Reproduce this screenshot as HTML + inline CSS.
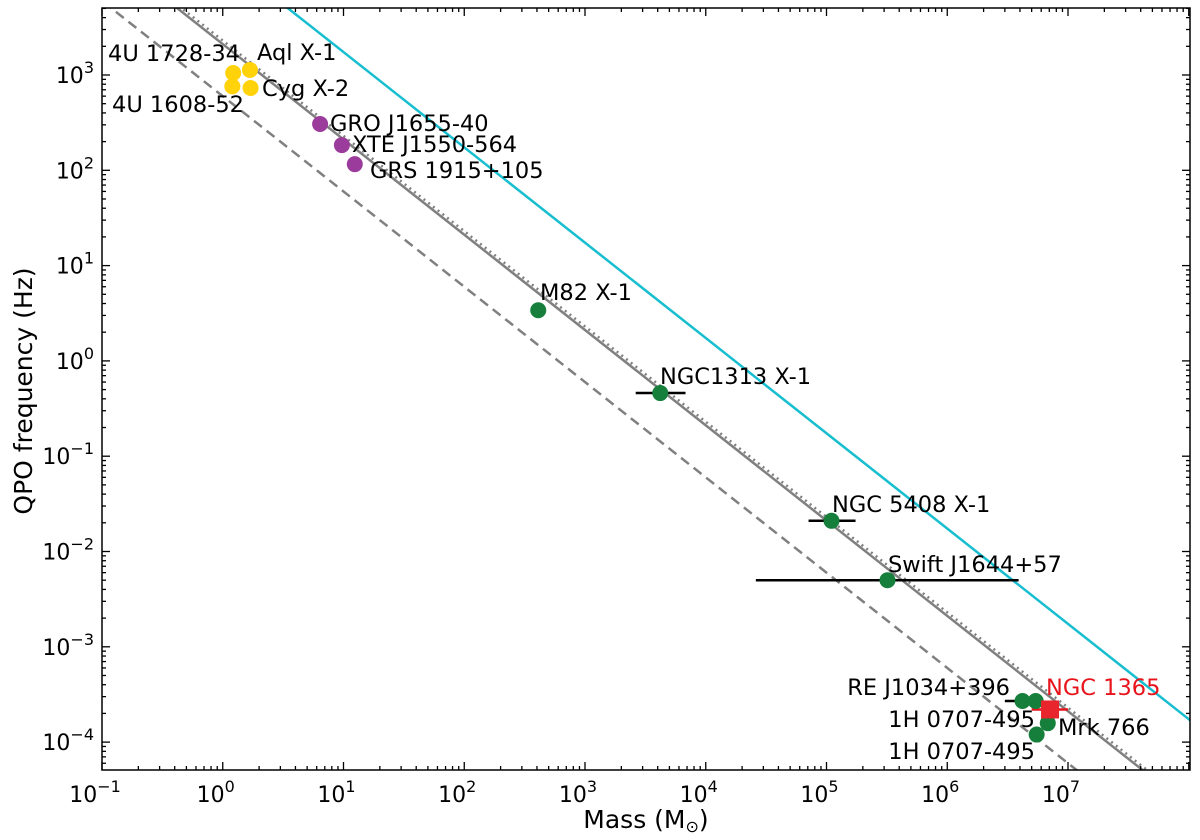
<!DOCTYPE html>
<html><head><meta charset="utf-8"><style>
html,body{margin:0;padding:0;background:#fff;overflow:hidden;width:1200px;height:840px;}
svg{display:block;font-family:"DejaVu Sans","Liberation Sans",sans-serif;}
</style></head><body>
<svg id="chart" width="1200" height="840" viewBox="0 0 1200 840"></svg>
<script>
const xTickExps=[-1,0,1,2,3,4,5,6,7];
const yTickExps=[-4,-3,-2,-1,0,1,2,3];
const yellowMass=[1.22,1.68,1.2,1.7];
const yellowFreq=[1050,1130,760,730];
const purpleMass=[6.4,9.7,12.4];
const purpleFreq=[306,184,116];
const greenMass=[410,4200,1.1e5,3.2e5,4.2e6,5.4e6,6.8e6,5.5e6];
const greenFreq=[3.4,0.46,0.021,0.005,2.7e-4,2.7e-4,1.58e-4,1.2e-4];
const greenErrLo=[null,2630,7.1e4,2.6e4,3.0e6,null,null,null];
const greenErrHi=[null,6800,1.74e5,3.9e6,null,null,null,null];
const redMass=[7.1e6];
const redFreq=[2.2e-4];
const redErrLo=[5.0e6];
const redErrHi=[1.0e7];
const lineCoeffs=[2110,2300,600,17400];
const labels=[
["4U 1728-34",108,61,"start","#000"],["Aql X-1",257,60,"start","#000"],["Cyg X-2",262,96,"start","#000"],
["4U 1608-52",112,112,"start","#000"],["GRO J1655-40",330,131,"start","#000"],["XTE J1550-564",352,152,"start","#000"],
["GRS 1915+105",370,178,"start","#000"],["M82 X-1",540,300,"start","#000"],["NGC1313 X-1",660,384,"start","#000"],
["NGC 5408 X-1",832,512,"start","#000"],["Swift J1644+57",888,572,"start","#000"],["RE J1034+396",1010,695,"end","#000"],
["NGC 1365",1046,695,"start","#e8141c"],["1H 0707-495",1035,727,"end","#000"],["Mrk 766",1058,735,"start","#000"],["1H 0707-495",1035,759,"end","#000"]];
const L=102,R=1190,T=8,B=770;
const X0=102,XD=120.75,Y0=75,YD=95.3;
function xs(v){return X0+XD*(Math.log10(v)+1);}
function ys(v){return Y0+YD*(3-Math.log10(v));}
const svg=document.getElementById('chart');
const NS='http://www.w3.org/2000/svg';
function mk(tag,attrs,parent){const e=document.createElementNS(NS,tag);for(const k in attrs)e.setAttribute(k,attrs[k]);(parent||svg).appendChild(e);return e;}
const defs=mk('defs',{});const cp=mk('clipPath',{id:'clip'},defs);mk('rect',{x:L,y:T,width:R-L,height:B-T},cp);
const plot=mk('g',{'clip-path':'url(#clip)'});

const styles=[{stroke:'#808080','stroke-width':2.5},{stroke:'#808080','stroke-width':2.5,'stroke-dasharray':'2,4'},{stroke:'#808080','stroke-width':2.5,'stroke-dasharray':'10,6'},{stroke:'#17becf','stroke-width':2.5}];
const lnames=['solid-relation-line','dotted-relation-line','dashed-relation-line','cyan-relation-line'];
lineCoeffs.forEach((A,i)=>{const m1=0.05,m2=2e8;
const l=mk('line',Object.assign({x1:xs(m1),y1:ys(A/m1),x2:xs(m2),y2:ys(A/m2),fill:'none'},styles[i]),plot);
});
function errbar(lo,hi,y,col,name){const e=mk('line',{x1:xs(lo),x2:xs(hi),y1:ys(y),y2:ys(y),stroke:col,'stroke-width':2.5},plot);
}
greenMass.forEach((m,i)=>{if(greenErrLo[i]!==null){errbar(greenErrLo[i],greenErrHi[i]!==null?greenErrHi[i]:m,greenFreq[i],'#000','green-error-bar');}});
redMass.forEach((m,i)=>errbar(redErrLo[i],redErrHi[i],redFreq[i],'#e8141c','red-error-bar'));
function pts(ms,fs,col,name){ms.forEach((m,i)=>{const c=mk('circle',{cx:xs(m),cy:ys(fs[i]),r:8,fill:col},plot);
});}
pts(yellowMass,yellowFreq,'#ffd20a','neutron-star-point');
pts(purpleMass,purpleFreq,'#9b3b9b','stellar-bh-point');
pts(greenMass,greenFreq,'#157f3b','bh-point');
redMass.forEach((m,i)=>{const r=mk('rect',{x:xs(m)-9,y:ys(redFreq[i])-9,width:18,height:18,fill:'#e8242c'},plot);
});
labels.forEach(d=>{const t=mk('text',{x:d[1],y:d[2],'font-size':22.5,'text-anchor':d[3],fill:d[4]});t.textContent=d[0];
});
const fr=mk('rect',{x:L,y:T,width:R-L,height:B-T,fill:'none',stroke:'#000','stroke-width':1.5});

const tk=mk('g',{stroke:'#000','stroke-width':1.3});

for(let e=-1;e<=8;e++){for(let k=1;k<10;k++){const v=k*Math.pow(10,e);const x=xs(v);if(x<L||x>R)continue;const len=k===1?8:4;
mk('line',{x1:x,x2:x,y1:B,y2:B-len},tk);mk('line',{x1:x,x2:x,y1:T,y2:T+len},tk);}}
for(let e=-5;e<=3;e++){for(let k=1;k<10;k++){const v=k*Math.pow(10,e);const y=ys(v);if(y<T||y>B)continue;const len=k===1?8:4;
mk('line',{y1:y,y2:y,x1:L,x2:L+len},tk);mk('line',{y1:y,y2:y,x1:R,x2:R-len},tk);}}
xTickExps.forEach(e=>{const t=mk('text',{x:xs(Math.pow(10,e))-7,y:802,'font-size':22,'text-anchor':'middle'});
t.innerHTML='10<tspan dy="-10" font-size="16">'+(e<0?'\u2212'+(-e):e)+'</tspan>';
});
yTickExps.forEach(e=>{const t=mk('text',{x:L-8,y:ys(Math.pow(10,e))+8,'font-size':22,'text-anchor':'end'});
t.innerHTML='10<tspan dy="-10" font-size="16">'+(e<0?'\u2212'+(-e):e)+'</tspan>';
});
const xt=mk('text',{x:646,y:828,'font-size':25,'text-anchor':'middle'});xt.innerHTML='Mass (M<tspan font-size="16" dy="4">\u2299</tspan><tspan dy="-4">)</tspan>';

const yt=mk('text',{x:32,y:391,'font-size':25,'text-anchor':'middle',transform:'rotate(-90 32 391)'});yt.textContent='QPO frequency (Hz)';

</script>
</body></html>
